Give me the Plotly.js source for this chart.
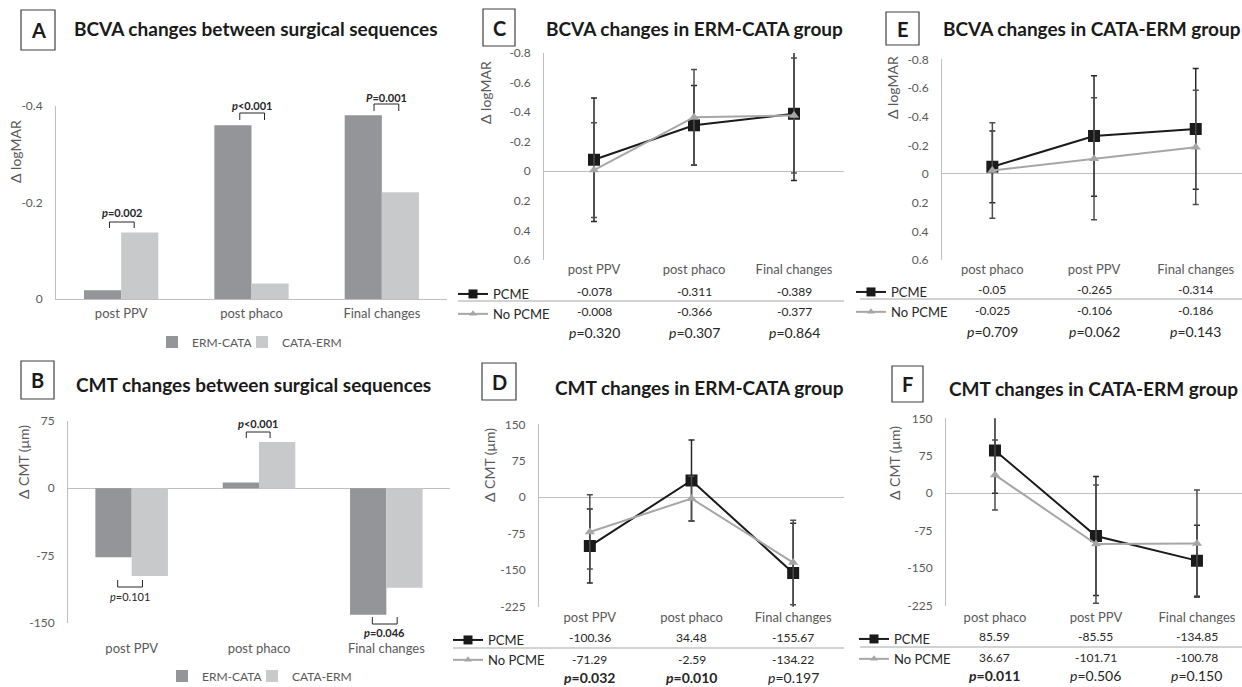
<!DOCTYPE html>
<html><head><meta charset="utf-8">
<script src="https://cdn.plot.ly/plotly-3.0.1.min.js"></script>
<style>html,body{margin:0;padding:0;background:#fff}</style>
</head><body><div id="chart" style="width:1242px;height:687px"></div>
<script>
// ---------- data ----------
const catsAB = ['post PPV', 'post phaco', 'Final changes'];
const bcvaErmCata = [-0.018, -0.36, -0.381];
const bcvaCataErm = [-0.138, -0.032, -0.221];
const cmtErmCata = [-77, 6.5, -141];
const cmtCataErm = [-98, 51.5, -111];

const catsCD = ['post PPV', 'post phaco', 'Final changes'];
const catsEF = ['post phaco', 'post PPV', 'Final changes'];

const bcvaC_pcme = [-0.078, -0.311, -0.389];
const bcvaC_pcmeSD = [0.417, 0.27, 0.452];
const bcvaC_no = [-0.008, -0.366, -0.377];
const bcvaC_noSD = [0.32, 0.323, 0.389];
const pC = ['0.320', '0.307', '0.864'];
const pCbold = [false, false, false];

const cmtD_pcme = [-100.36, 34.48, -155.67];
const cmtD_pcmeSD = [76, 83.3, 102.3];
const cmtD_no = [-71.29, -2.59, -134.22];
const cmtD_noSD = [76.3, 46, 87];
const pD = ['0.032', '0.010', '0.197'];
const pDbold = [true, true, false];

const bcvaE_pcme = [-0.05, -0.265, -0.314];
const bcvaE_pcmeSD = [0.25, 0.42, 0.421];
const bcvaE_no = [-0.025, -0.106, -0.186];
const bcvaE_noSD = [0.333, 0.426, 0.398];
const pE = ['0.709', '0.062', '0.143'];
const pEbold = [false, false, false];

const cmtF_pcme = [85.59, -85.55, -134.85];
const cmtF_pcmeSD = [85.6, 119, 71];
const cmtF_no = [36.67, -101.71, -100.78];
const cmtF_noSD = [70, 118.4, 107.5];
const pF = ['0.011', '0.506', '0.150'];
const pFbold = [true, false, false];

const pA = ['<i>p</i>=0.002', '<i>p</i>&lt;0.001', '<i>P</i>=0.001'];
const pB = ['<i>p</i>=0.101', '<b><i>p</i>&lt;0.001</b>', '<b><i>p</i>=0.046</b>'];

const tickA = [0, -0.2, -0.4];
const tickAtext = ['0', '-0.2', '-0.4'];
const tickB = [-150, -75, 0, 75];
const tickBtext = ['-150', '-75', '0', '75'];
const tickCE = [0.6, 0.4, 0.2, 0, -0.2, -0.4, -0.6, -0.8];
const tickCEtext = ['0.6', '0.4', '0.2', '0', '-0.2', '-0.4', '-0.6', '-0.8'];
const tickDF = [-225, -150, -75, 0, 75, 150];
const tickDFtext = ['-225', '-150', '-75', '0', '75', '150'];

// ---------- helpers ----------
const W = 1242, H = 687;
const X = px => px / W;
const Y = py => 1 - py / H;
const FONT = 'Lato, "Open Sans", sans-serif';
const TXT = '#595959';
const DARK = '#262626';
const AX = '#bfbfbf';
const C_ERM = '#949598';
const C_CATA = '#c8c9cb';

const traces = [];
function bars(xa, ya, y1, y2, leg1, leg2) {
  traces.push({type: 'bar', x: catsAB, y: y1, name: 'ERM-CATA', marker: {color: C_ERM},
    xaxis: xa, yaxis: ya, legend: leg1});
  traces.push({type: 'bar', x: catsAB, y: y2, name: 'CATA-ERM', marker: {color: C_CATA},
    xaxis: xa, yaxis: ya, legend: leg2});
}
bars('x', 'y', bcvaErmCata, bcvaCataErm, 'legend', 'legend7');
bars('x2', 'y2', cmtErmCata, cmtCataErm, 'legend2', 'legend8');

const PC_COL = '#1a1a1a', NO_COL = '#a6a6a6';
function lines(xa, ya, cats, p, pSD, n, nSD, leg) {
  traces.push({type: 'scatter', mode: 'lines+markers', x: cats, y: p, name: 'PCME',
    xaxis: xa, yaxis: ya, showlegend: false,
    line: {color: PC_COL, width: 2},
    marker: {symbol: 'square', size: 12, color: PC_COL},
    error_y: {type: 'data', array: pSD, visible: true, color: '#262626', thickness: 1.5, width: 3}});
  traces.push({type: 'scatter', mode: 'lines+markers', x: cats, y: n, name: 'No PCME',
    xaxis: xa, yaxis: ya, showlegend: false,
    line: {color: NO_COL, width: 2},
    marker: {symbol: 'triangle-up', size: 9, color: NO_COL},
    error_y: {type: 'data', array: nSD, visible: true, color: '#4d4d4d', thickness: 1.5, width: 3}});
  // legend-only entries (smaller symbols, as in the table legend)
  traces.push({type: 'scatter', mode: 'lines+markers', x: [null], y: [null], name: 'PCME',
    xaxis: xa, yaxis: ya, legend: leg,
    line: {color: PC_COL, width: 2}, marker: {symbol: 'square', size: 9, color: PC_COL}});
  traces.push({type: 'scatter', mode: 'lines+markers', x: [null], y: [null], name: 'No PCME',
    xaxis: xa, yaxis: ya, legend: leg,
    line: {color: NO_COL, width: 2}, marker: {symbol: 'triangle-up', size: 7, color: NO_COL}});
}
lines('x3', 'y3', catsCD, bcvaC_pcme, bcvaC_pcmeSD, bcvaC_no, bcvaC_noSD, 'legend3');
lines('x4', 'y4', catsCD, cmtD_pcme, cmtD_pcmeSD, cmtD_no, cmtD_noSD, 'legend4');
lines('x5', 'y5', catsEF, bcvaE_pcme, bcvaE_pcmeSD, bcvaE_no, bcvaE_noSD, 'legend5');
lines('x6', 'y6', catsEF, cmtF_pcme, cmtF_pcmeSD, cmtF_no, cmtF_noSD, 'legend6');

function xax(l, r, anchor, opts) {
  return Object.assign({domain: [X(l), X(r)], anchor: anchor, type: 'category',
    showgrid: false, zeroline: false, showline: false, ticks: '',
    tickfont: {family: FONT, size: 13, color: TXT}, fixedrange: true}, opts || {});
}
function yax(b, t, anchor, range, tv, tt, opts) {
  return Object.assign({domain: [Y(b), Y(t)], anchor: anchor, range: range,
    tickvals: tv, ticktext: tt, showgrid: false, showline: true, linecolor: AX, linewidth: 1,
    zeroline: true, zerolinecolor: AX, zerolinewidth: 1, ticks: '', ticklabelstandoff: 10,
    tickfont: {family: FONT, size: 12, color: TXT}, fixedrange: true}, opts || {});
}

const layout = {
  width: W, height: H, margin: {l: 0, r: 0, t: 0, b: 0, autoexpand: false},
  paper_bgcolor: '#fff', plot_bgcolor: 'rgba(0,0,0,0)',
  font: {family: FONT, color: TXT},
  barmode: 'group', bargap: 0.43, bargroupgap: 0,
  hovermode: false,
  xaxis: xax(56, 447, 'y', {showline: true, linecolor: AX, ticklabelstandoff: 2}),
  yaxis: yax(299, 106, 'x', [0, -0.4], tickA, tickAtext, {zeroline: false}),
  xaxis2: xax(68, 450, 'y2', {ticklabelstandoff: 16}),
  yaxis2: yax(622.7, 421, 'x2', [-150, 75], tickB, tickBtext),
  xaxis3: xax(544, 844, 'y3', {range: [-0.5, 2.5], ticklabelstandoff: 0}),
  yaxis3: yax(260, 53, 'x3', [0.6, -0.8], tickCE, tickCEtext),
  xaxis4: xax(539, 844, 'y4', {range: [-0.5, 2.5], ticklabelstandoff: 1}),
  yaxis4: yax(606.7, 424.3, 'x4', [-225, 150], tickDF, tickDFtext),
  xaxis5: xax(942, 1242, 'y5', {range: [-0.495, 2.455], ticklabelstandoff: 0}),
  yaxis5: yax(260, 59.3, 'x5', [0.6, -0.8], tickCE, tickCEtext),
  xaxis6: xax(946, 1242, 'y6', {range: [-0.485, 2.446], ticklabelstandoff: 2}),
  yaxis6: yax(605.7, 418.3, 'x6', [-225, 150], tickDF, tickDFtext),
  annotations: [], shapes: []
};

// legends (container coordinates so they never push the margins)
const legBase = {bgcolor: 'rgba(0,0,0,0)', borderwidth: 0, xref: 'container', yref: 'container',
  font: {family: FONT, size: 12, color: TXT}};
function barLegend(name, lx, cy) {
  layout[name] = Object.assign({}, legBase, {orientation: 'h', x: X(lx), xanchor: 'left', y: Y(cy), yanchor: 'middle'});
}
barLegend('legend', 152, 342);
barLegend('legend7', 242, 342);
barLegend('legend2', 162, 676);
barLegend('legend8', 252, 676);
function lineLegend(name, lx, ty) {
  layout[name] = Object.assign({}, legBase, {orientation: 'v', x: X(lx), xanchor: 'left', y: Y(ty), yanchor: 'top',
    tracegroupgap: 0, font: {family: FONT, size: 13, color: DARK}});
}
lineLegend('legend3', 453, 279);
lineLegend('legend4', 448, 625);
lineLegend('legend5', 851, 277);
lineLegend('legend6', 854, 624);

const A = layout.annotations, S = layout.shapes;
function txt(x, y, t, size, opts) {
  A.push(Object.assign({xref: 'paper', yref: 'paper', x: x, y: y, text: t, showarrow: false,
    font: {family: FONT, size: size, color: DARK}, xanchor: 'center', yanchor: 'middle'}, opts || {}));
}
// panel letters & titles
function panel(letter, bx0, by0, bx1, by1, title, tx, ty) {
  S.push({type: 'rect', xref: 'paper', yref: 'paper', x0: X(bx0), x1: X(bx1), y0: Y(by0), y1: Y(by1),
    line: {color: '#404040', width: 1.2}});
  txt(X((bx0 + bx1) / 2), Y((by0 + by1) / 2), '<b>' + letter + '</b>', 20, {font: {family: FONT, size: 20, color: '#1a1a1a'}});
  txt(X(tx), Y(ty), '<b>' + title + '</b>', 19, {xanchor: 'left', font: {family: FONT, size: 19, color: '#1a1a1a'}});
}
panel('A', 21, 10, 55, 50, 'BCVA changes between surgical sequences', 72, 29);
panel('B', 21, 361, 54, 399, 'CMT changes between surgical sequences', 74, 384);
panel('C', 483, 9, 515, 46, 'BCVA changes in ERM-CATA group', 544, 28);
panel('D', 482, 363, 516, 400, 'CMT changes in ERM-CATA group', 553, 387);
panel('E', 886, 12, 919, 45, 'BCVA changes in CATA-ERM group', 941, 28);
panel('F', 892, 366, 923, 402, 'CMT changes in CATA-ERM group', 947, 389);

// y axis titles
function ytitle(x, y, t) { txt(X(x), Y(y), t, 14, {textangle: -90, font: {family: FONT, size: 14, color: TXT}}); }
ytitle(15, 152, 'Δ logMAR');
ytitle(23, 462, 'Δ CMT (μm)');
ytitle(486, 93, 'Δ logMAR');
ytitle(489, 465, 'Δ CMT (μm)');
ytitle(892, 88, 'Δ logMAR');
ytitle(894, 463, 'Δ CMT (μm)');

// brackets with p-values (panels A, B)
function bracket(xa, i, lo, hi, yLine, yTick, yText, label) {
  const ln = {color: DARK, width: 1};
  S.push({type: 'line', xref: xa, yref: 'paper', x0: i + lo, x1: i + hi, y0: Y(yLine), y1: Y(yLine), line: ln});
  S.push({type: 'line', xref: xa, yref: 'paper', x0: i + lo, x1: i + lo, y0: Y(yLine), y1: Y(yTick), line: ln});
  S.push({type: 'line', xref: xa, yref: 'paper', x0: i + hi, x1: i + hi, y0: Y(yLine), y1: Y(yTick), line: ln});
  A.push({xref: xa, yref: 'paper', x: i + (lo + hi) / 2, y: Y(yText), text: label, showarrow: false,
    font: {family: FONT, size: 11, color: DARK}, xanchor: 'center', yanchor: 'middle'});
}
bracket('x', 0, -0.09, 0.1, 222, 228, 213, '<b>' + pA[0] + '</b>');
bracket('x', 1, -0.09, 0.1, 113, 120, 105, '<b>' + pA[1] + '</b>');
bracket('x', 2, -0.06, 0.13, 104, 111, 97, '<b>' + pA[2] + '</b>');
bracket('x2', 0, -0.11, 0.085, 587, 580, 596, pB[0]);
bracket('x2', 1, -0.10, 0.087, 432, 438, 423, pB[1]);
bracket('x2', 2, -0.11, 0.085, 624, 617, 632, pB[2]);

// tables under line charts
function table(xa, cats, p, n, pv, pb, yP, yN, yPv, lineY, lx0, lx1) {
  cats.forEach((c, i) => {
    A.push({xref: xa, yref: 'paper', x: c, y: Y(yP), text: String(p[i]), showarrow: false,
      font: {family: FONT, size: 12, color: DARK}, xanchor: 'center', yanchor: 'middle'});
    A.push({xref: xa, yref: 'paper', x: c, y: Y(yN), text: String(n[i]), showarrow: false,
      font: {family: FONT, size: 12, color: DARK}, xanchor: 'center', yanchor: 'middle'});
    const t = '<i>p</i>=' + pv[i];
    A.push({xref: xa, yref: 'paper', x: c, y: Y(yPv), text: pb[i] ? '<b>' + t + '</b>' : t, showarrow: false,
      font: {family: FONT, size: 14, color: DARK}, xanchor: 'center', yanchor: 'middle'});
  });
  S.push({type: 'line', xref: 'paper', yref: 'paper', x0: X(lx0), x1: X(lx1), y0: Y(lineY), y1: Y(lineY),
    line: {color: '#a6a6a6', width: 1}});
}
table('x3', catsCD, bcvaC_pcme, bcvaC_no, pC, pCbold, 291, 311, 332, 301, 458, 844);
table('x4', catsCD, cmtD_pcme, cmtD_no, pD, pDbold, 637, 659, 677, 648, 453, 844);
table('x5', catsEF, bcvaE_pcme, bcvaE_no, pE, pEbold, 289, 310, 331, 299, 860, 1242);
table('x6', catsEF, cmtF_pcme, cmtF_no, pF, pFbold, 636, 657, 675, 647, 860, 1242);

Plotly.newPlot('chart', traces, layout, {staticPlot: true, displayModeBar: false});
</script></body></html>
